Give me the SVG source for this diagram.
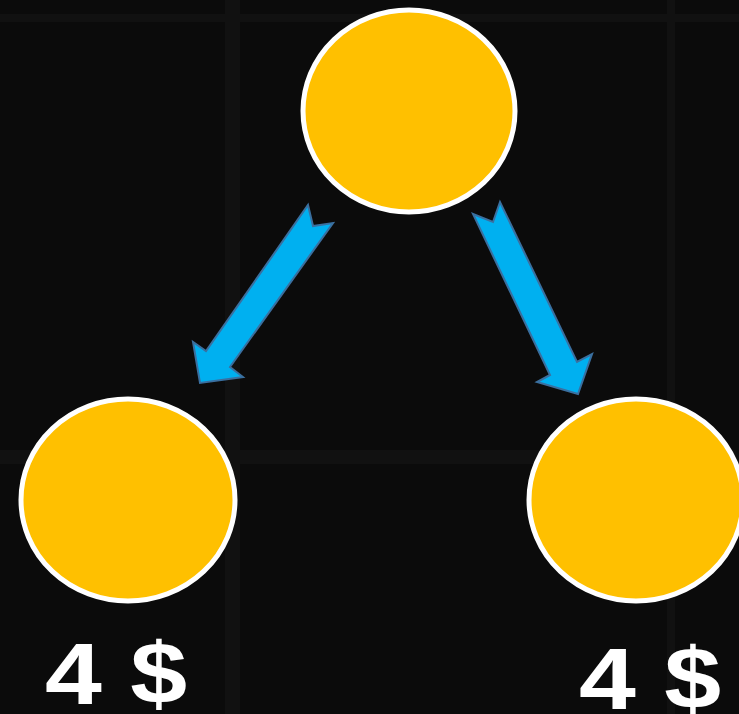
<svg xmlns="http://www.w3.org/2000/svg" width="739" height="714" viewBox="0 0 739 714">
<style>
.bg{fill:#0b0b0b}
.grid{fill:#111111}
.node{fill:#ffc000;stroke:#ffffff;stroke-width:5}
.arrow{fill:#00b0f0;stroke:#3a6f9f;stroke-width:2;stroke-linejoin:miter}
.label{font-family:"Liberation Sans",Arial,sans-serif;font-weight:bold;font-size:88px;fill:#ffffff}
</style>
<rect class="bg" x="0" y="0" width="739" height="714"/>
<g id="grid">
<rect class="grid" x="0" y="14" width="739" height="8"/>
<rect class="grid" x="0" y="450" width="739" height="14"/>
<rect class="grid" x="225" y="0" width="15" height="714"/>
<rect class="grid" x="667" y="0" width="8" height="714"/>
</g>
<g id="connectors">
<polygon class="arrow" points="308,205 313,226 333,223 230,367 243,377 200,383 193,342 206,351"/>
<polygon class="arrow" points="473,214 493,222 500,202 577,362 592,354 578,394 537,382 550,375"/>
</g>
<g id="top">
<ellipse class="node" cx="409" cy="111" rx="106" ry="101"/>
</g>
<g id="left">
<ellipse class="node" cx="128" cy="500" rx="107" ry="101"/>
<text class="label" x="45" y="704" textLength="142" lengthAdjust="spacingAndGlyphs">4 $</text>
</g>
<g id="right">
<ellipse class="node" cx="636" cy="500" rx="107" ry="101"/>
<text class="label" x="579" y="709" textLength="142" lengthAdjust="spacingAndGlyphs">4 $</text>
</g>
</svg>
